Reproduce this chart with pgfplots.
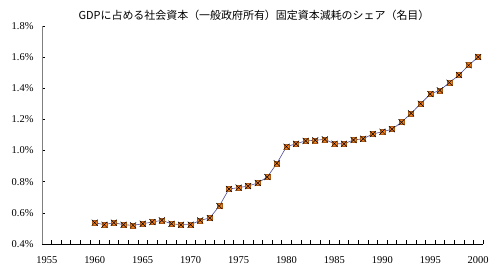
\documentclass[border=0pt]{standalone}
\usepackage{pgfplots}
\pgfplotsset{compat=1.18}
\usepackage{fontspec}
\setmainfont{Liberation Serif}
\newfontfamily\cjk{Noto Sans CJK JP}
\definecolor{lineblue}{HTML}{4B4B9A}
\definecolor{mkorange}{HTML}{F5821F}
\pgfdeclareplotmark{sqx}{%
  \pgfpathrectangle{\pgfqpoint{-\pgfplotmarksize}{-\pgfplotmarksize}}{\pgfqpoint{2\pgfplotmarksize}{2\pgfplotmarksize}}%
  \pgfsetfillcolor{mkorange}\pgfsetstrokecolor{mkorange!70!black}\pgfusepath{fill,stroke}%
  \pgfsetstrokecolor{black}%
  \pgfpathmoveto{\pgfqpoint{-1.2\pgfplotmarksize}{-1.2\pgfplotmarksize}}%
  \pgfpathlineto{\pgfqpoint{1.2\pgfplotmarksize}{1.2\pgfplotmarksize}}%
  \pgfpathmoveto{\pgfqpoint{-1.2\pgfplotmarksize}{1.2\pgfplotmarksize}}%
  \pgfpathlineto{\pgfqpoint{1.2\pgfplotmarksize}{-1.2\pgfplotmarksize}}%
  \pgfusepath{stroke}}
\begin{document}
\begin{tikzpicture}
\begin{axis}[
  scale only axis,
  width=441bp, height=218bp,
  xmin=1954.5, xmax=2000.5,
  ymin=0.4, ymax=1.8,
  axis x line*=bottom,
  axis y line*=left,
  x axis line style={black, line width=0.8pt, -},
  y axis line style={gray, line width=1pt, -},
  xtick={1955,1960,...,2000},
  minor xtick={1954.5,1955.5,...,2000.5},
  major tick length=3bp,
  minor tick length=4bp,
  xtick style={draw=none},
  minor x tick style={draw=black, line width=0.6pt},
  ytick={0.4,0.6,...,1.8},
  y tick style={black, line width=0.5pt},
  tick align=inside,
  yticklabel={\pgfmathprintnumber[fixed,fixed zerofill,precision=1]{\tick}\%},
  /pgf/number format/assume math mode=true,
  xticklabel={\pgfmathprintnumber[1000 sep={}]{\tick}},
  ticklabel style={font=\fontsize{10.5}{12}\selectfont},
  xticklabel style={yshift=-9bp},
  yticklabel style={xshift=-5bp},
  clip=false,
]
\addplot[color=lineblue, line width=0.6pt, mark=sqx, mark size=2.5bp, mark options={line width=0.5pt}] coordinates {
(1960,0.537) (1961,0.524) (1962,0.537) (1963,0.524) (1964,0.520)
(1965,0.530) (1966,0.541) (1967,0.552) (1968,0.530) (1969,0.524)
(1970,0.524) (1971,0.552) (1972,0.567) (1973,0.644) (1974,0.753)
(1975,0.762) (1976,0.772) (1977,0.792) (1978,0.830) (1979,0.918)
(1980,1.025) (1981,1.044) (1982,1.062) (1983,1.066) (1984,1.072)
(1985,1.044) (1986,1.044) (1987,1.068) (1988,1.076) (1989,1.106)
(1990,1.121) (1991,1.137) (1992,1.182) (1993,1.239) (1994,1.301)
(1995,1.363) (1996,1.387) (1997,1.436) (1998,1.485) (1999,1.548)
(2000,1.601)
};
\node[font=\cjk\fontsize{11}{12}\selectfont, anchor=center] at (rel axis cs:0.4807,1.05) {GDPに占める社会資本（一般政府所有）固定資本減耗のシェア（名目）};
\end{axis}
\pgfresetboundingbox
\path[use as bounding box] (-42bp,-36bp) rectangle (455bp,244bp);
\end{tikzpicture}
\end{document}
